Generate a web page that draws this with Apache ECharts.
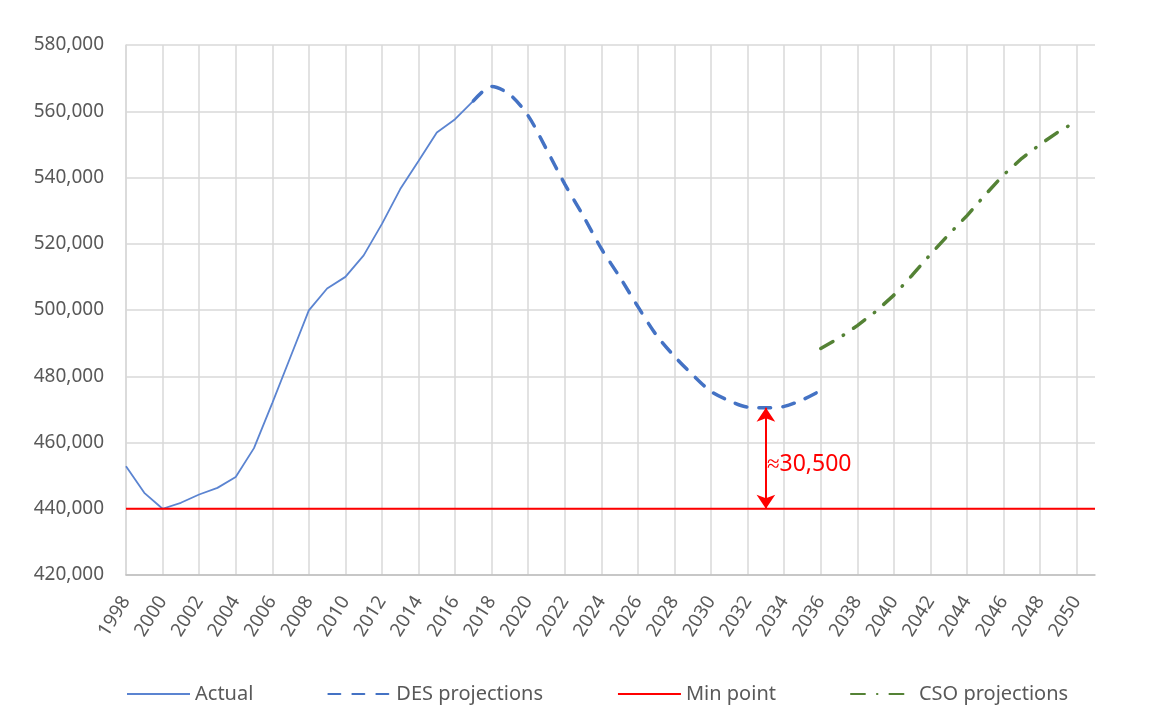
<!DOCTYPE html>
<html lang="en">
	<head>
		<meta charset="UTF-8">
		<title>Population projections</title>
		<script src="https://cdn.jsdelivr.net/npm/echarts@6/dist/echarts.min.js" type="text/javascript" charset="utf-8"></script>
		<style>
			html, body { margin: 0; padding: 0; background: #fff; }
			#myChart { width: 1159px; height: 713px; }
		</style>
	</head>
	<body>
		<div id="myChart"></div>
		<script type="text/javascript">
			// x axis: years (2051 only carries the min point line to the plot edge)
			var years = [];
			for (var y = 1998; y <= 2051; y++) years.push(String(y));

			// Actual 1998-2017
			var actualStart = 1998;
			var actualValues = [452800, 444800, 440000, 441800, 444300, 446300, 449600, 458300, 471900, 485900,
				499900, 506500, 510000, 516500, 526000, 536500, 545000, 553600, 557600, 563100];

			// DES projections 2017-2036
			var desStart = 2017;
			var desValues = [563100, 567500, 565000, 558600, 548500, 538000, 528500, 518500, 510000, 501000,
				492500, 486000, 480400, 475400, 472600, 470700, 470500, 470900, 472900, 475700];

			// CSO projections 2036-2050
			var csoStart = 2036;
			var csoValues = [488400, 491500, 495300, 499500, 504500, 510500, 516800, 522800, 528500, 534800,
				540800, 545800, 550000, 553800, 557000];

			// min point and the gap annotation
			var minValue = 440000;
			var gapYear = '2033';
			var gapTop = 470500;
			var gapText = '≈30,500';

			// y axis ticks
			var yMin = 420000, yMax = 580000, yStep = 20000;

			function toPairs(start, vals) {
				return vals.map(function (v, i) { return [String(start + i), v]; });
			}
			var minData = years.map(function (yr) { return [yr, minValue]; });

			var labelFont = { color: '#595959', fontSize: 19, fontFamily: 'Noto Sans' };

			var myChart = echarts.init(document.getElementById('myChart'));
			var option = {
				animation: false,
				backgroundColor: '#fff',
				grid: { left: 126, right: 64, top: 45, bottom: 138 },
				legend: {
					left: 121,
					bottom: 4,
					itemWidth: 63,
					itemHeight: 14,
					itemGap: 74,
					itemStyle: { opacity: 0 },
					textStyle: { color: '#595959', fontSize: 20, fontFamily: 'Noto Sans' },
					data: ['Actual', 'DES projections', 'Min point', 'CSO projections']
				},
				xAxis: {
					type: 'category',
					boundaryGap: false,
					data: years,
					axisLine: { lineStyle: { color: '#BFBFBF', width: 1.5 } },
					axisTick: { show: false },
					axisLabel: Object.assign({ interval: 1, rotate: 58, margin: 23 }, labelFont),
					splitLine: { show: true, interval: 1, lineStyle: { color: '#D9D9D9', width: 1.5 } }
				},
				yAxis: {
					type: 'value',
					min: yMin,
					max: yMax,
					interval: yStep,
					axisLine: { show: true, lineStyle: { color: '#D9D9D9', width: 1.5 } },
					axisTick: { show: false },
					axisLabel: Object.assign({
						margin: 22,
						formatter: function (v) { return v.toLocaleString('en-US'); }
					}, labelFont),
					splitLine: { lineStyle: { color: '#D9D9D9', width: 1.5 } }
				},
				series: [{
					name: 'Actual',
					type: 'line',
					symbol: 'none',
					data: toPairs(actualStart, actualValues),
					itemStyle: { color: '#5B84D1' },
					lineStyle: { color: '#5B84D1', width: 1.8 }
				}, {
					name: 'DES projections',
					type: 'line',
					symbol: 'none',
					smooth: 0.3,
					data: toPairs(desStart, desValues),
					itemStyle: { color: '#4472C4' },
					lineStyle: { color: '#4472C4', width: 3.5, type: [12, 12], cap: 'round' }
				}, {
					name: 'Min point',
					type: 'line',
					symbol: 'none',
					data: minData,
					itemStyle: { color: '#FF0000' },
					lineStyle: { color: '#FF0000', width: 2 },
					markLine: {
						silent: true,
						symbol: ['arrow', 'arrow'],
						symbolSize: [14, 14],
						label: { show: false },
						lineStyle: { color: '#FF0000', width: 2, type: 'solid' },
						data: [[{ coord: [gapYear, minValue] }, { coord: [gapYear, gapTop] }]]
					},
					markPoint: {
						silent: true,
						symbol: 'circle',
						symbolSize: 0,
						data: [{
							coord: [gapYear, (minValue + gapTop) / 2],
							label: {
								show: true,
								position: 'right',
								distance: 1,
								offset: [0, 6],
								formatter: gapText,
								color: '#FF0000',
								fontSize: 23,
								fontFamily: 'Noto Sans'
							}
						}]
					}
				}, {
					name: 'CSO projections',
					type: 'line',
					symbol: 'none',
					data: toPairs(csoStart, csoValues),
					itemStyle: { color: '#548235' },
					lineStyle: { color: '#548235', width: 3.5, type: [14, 12, 0.5, 12], cap: 'round' }
				}]
			};
			myChart.setOption(option);
		</script>
	</body>
</html>
